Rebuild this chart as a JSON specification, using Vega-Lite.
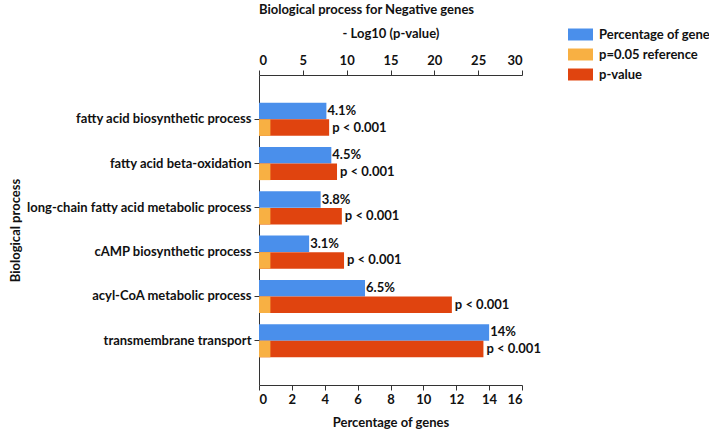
{
  "$schema": "https://vega.github.io/schema/vega-lite/v6.json",
  "autosize": {"type": "none"},
  "padding": {"left": 259, "top": 75, "right": 187, "bottom": 47},
  "width": 263,
  "height": 310,
  "title": {
    "text": "Biological process for Negative genes",
    "font": "Lato", "fontSize": 13, "fontWeight": "bold", "color": "#111",
    "anchor": "middle", "dx": -24, "offset": 5
  },
  "config": {
    "view": {"stroke": null},
    "font": "Lato",
    "axis": {
      "grid": false, "domainColor": "#333", "tickColor": "#333",
      "labelFont": "Lato", "labelFontWeight": "bold", "labelFontSize": 13, "labelColor": "#111",
      "titleFont": "Lato", "titleFontWeight": "bold", "titleFontSize": 13, "titleColor": "#111"
    },
    "legend": {
      "labelFont": "Lato", "labelFontWeight": "bold", "labelFontSize": 13, "labelColor": "#111",
      "symbolType": "M-1,-0.48H1V0.48H-1Z", "symbolSize": 625, "symbolStrokeWidth": 0,
      "labelOffset": 6, "rowPadding": -9, "padding": 0
    }
  },
  "data": {
    "values": [
      {"process": "fatty acid biosynthetic process", "pct": 4.1, "pctLabel": "4.1%", "logp": 8.0, "pLabel": "p < 0.001", "ref": 1.3},
      {"process": "fatty acid beta-oxidation", "pct": 4.4, "pctLabel": "4.5%", "logp": 8.9, "pLabel": "p < 0.001", "ref": 1.3},
      {"process": "long-chain fatty acid metabolic process", "pct": 3.75, "pctLabel": "3.8%", "logp": 9.45, "pLabel": "p < 0.001", "ref": 1.3},
      {"process": "cAMP biosynthetic process", "pct": 3.05, "pctLabel": "3.1%", "logp": 9.7, "pLabel": "p < 0.001", "ref": 1.3},
      {"process": "acyl-CoA metabolic process", "pct": 6.45, "pctLabel": "6.5%", "logp": 22.0, "pLabel": "p < 0.001", "ref": 1.3},
      {"process": "transmembrane transport", "pct": 14.0, "pctLabel": "14%", "logp": 25.6, "pLabel": "p < 0.001", "ref": 1.3}
    ]
  },
  "encoding": {
    "y": {
      "field": "process", "type": "nominal", "sort": null,
      "scale": {"paddingInner": 0, "paddingOuter": 0.5},
      "axis": {"title": "Biological process", "labelLimit": 300, "tickSize": 5, "labelPadding": 3, "titleX": -244, "titleY": 155, "titleAngle": -90, "titleAlign": "center", "titleBaseline": "middle"}
    }
  },
  "layer": [
    {
      "encoding": {
        "x": {
          "field": "pct", "type": "quantitative",
          "scale": {"domain": [0, 16], "nice": false},
          "axis": {"orient": "bottom", "title": "Percentage of genes", "values": [0,2,4,6,8,10,12,14,16], "tickSize": 5, "labelPadding": 3, "titlePadding": 10}
        }
      },
      "layer": [
        {
          "mark": {"type": "bar", "height": 16.5, "yOffset": -8.3},
          "encoding": {
            "color": {
              "datum": "Percentage of gene", "type": "nominal",
              "scale": {"domain": ["Percentage of gene", "p=0.05 reference", "p-value"], "range": ["#4A8FEB", "#F8B043", "#E0440F"]},
              "legend": {"title": null, "orient": "none", "legendX": 309, "legendY": -53}
            }
          }
        },
        {
          "mark": {"type": "text", "align": "left", "baseline": "middle", "dx": 1, "yOffset": -8.3, "font": "Lato", "fontWeight": "bold", "fontSize": 13, "color": "#111"},
          "encoding": {"text": {"field": "pctLabel"}}
        }
      ]
    },
    {
      "encoding": {
        "x": {
          "field": "logp", "type": "quantitative",
          "scale": {"domain": [0, 30], "nice": false},
          "axis": {"orient": "top", "title": "- Log10 (p-value)", "values": [0,5,10,15,20,25,30], "tickSize": 5, "labelPadding": 3, "titlePadding": 14}
        }
      },
      "layer": [
        {
          "mark": {"type": "bar", "height": 16.5, "yOffset": 8.3},
          "encoding": {
            "color": {"datum": "p-value", "type": "nominal"}
          }
        },
        {
          "mark": {"type": "bar", "height": 16.5, "yOffset": 8.3},
          "encoding": {
            "x": {"field": "ref", "type": "quantitative"},
            "color": {"datum": "p=0.05 reference", "type": "nominal"}
          }
        },
        {
          "mark": {"type": "text", "align": "left", "baseline": "middle", "dx": 3, "yOffset": 8.3, "font": "Lato", "fontWeight": "bold", "fontSize": 13, "color": "#111"},
          "encoding": {"text": {"field": "pLabel"}}
        }
      ]
    }
  ],
  "resolve": {"scale": {"x": "independent"}, "axis": {"x": "independent"}}
}
